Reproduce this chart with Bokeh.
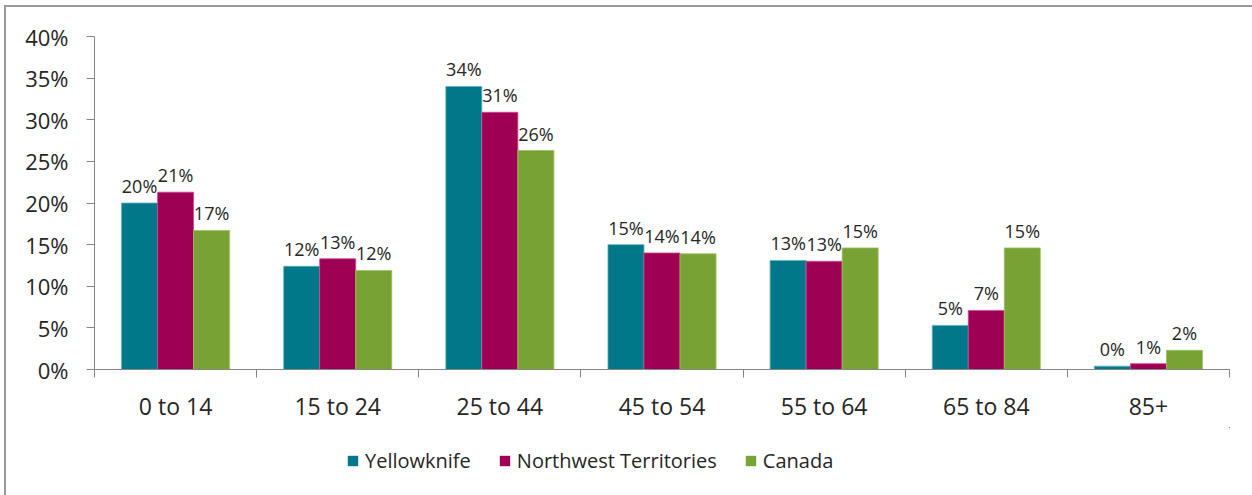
from bokeh.plotting import figure
from bokeh.layouts import column
from bokeh.models import Range1d, FixedTicker, Legend, LegendItem, ColumnDataSource
from bokeh.core.properties import value
from bokeh.embed import file_html
from bokeh.resources import INLINE

categories = ["0 to 14", "15 to 24", "25 to 44", "45 to 54", "55 to 64", "65 to 84", "85+"]
yellowknife = [20.0, 12.4, 34.0, 15.0, 13.1, 5.3, 0.4]
nwt = [21.3, 13.3, 30.9, 14.0, 13.0, 7.1, 0.7]
canada = [16.7, 11.9, 26.3, 13.9, 14.6, 14.6, 2.3]
series_names = ["Yellowknife", "Northwest Territories", "Canada"]
y_ticks = [0, 5, 10, 15, 20, 25, 30, 35, 40]
y_tick_labels = ["0%", "5%", "10%", "15%", "20%", "25%", "30%", "35%", "40%"]

colors = ["#00788A", "#9E0054", "#78A233"]
edge_colors = ["#5fb3c0", "#d04a90", "#9cc060"]
FONT = "Open Sans"
TEXT = "#262626"
AXIS = "#868686"

p = figure(width=1246, height=420, output_backend="svg", toolbar_location=None,
           x_range=Range1d(0, len(categories)), y_range=Range1d(0, 40),
           min_border_left=88, min_border_right=23, min_border_top=29, min_border_bottom=58)
p.outline_line_color = None
p.xgrid.visible = False
p.ygrid.visible = False
p.background_fill_color = "white"

bar_w = 0.2222
offsets = [-bar_w, 0.0, bar_w]
sources = []
for vals, off, col, ecol in zip([yellowknife, nwt, canada], offsets, colors, edge_colors):
    xs = [i + 0.5 + off for i in range(len(categories))]
    src = ColumnDataSource(dict(x=xs, top=vals, lab=[f"{int(v + 0.5)}%" for v in vals]))
    sources.append(src)
    p.vbar(x="x", top="top", width=bar_w, bottom=0, source=src,
           fill_color=col, line_color=ecol, line_width=0.8)
    p.text(x="x", y="top", text="lab", source=src, text_align="center",
           text_baseline="alphabetic", y_offset=-17, text_font=value(FONT),
           text_font_size="18px", text_color=TEXT)

# y axis
ya = p.yaxis[0]
ya.ticker = FixedTicker(ticks=y_ticks)
ya.major_label_overrides = {t: l for t, l in zip(y_ticks, y_tick_labels)}
ya.axis_line_color = AXIS
ya.major_tick_line_color = AXIS
ya.major_tick_out = 8
ya.major_tick_in = 0
ya.minor_tick_line_color = None
ya.major_label_text_font = FONT
ya.major_label_text_font_size = "22px"
ya.major_label_text_color = TEXT
ya.major_label_standoff = 18

# x axis
xa = p.xaxis[0]
centers = [i + 0.5 for i in range(len(categories))]
xa.ticker = FixedTicker(ticks=centers, minor_ticks=list(range(len(categories) + 1)))
xa.major_label_overrides = {c: name for c, name in zip(centers, categories)}
xa.axis_line_color = AXIS
xa.major_tick_line_color = None
xa.major_tick_out = 8
xa.major_tick_in = 0
xa.minor_tick_line_color = AXIS
xa.minor_tick_out = 8
xa.minor_tick_in = 0
xa.major_label_text_font = FONT
xa.major_label_text_font_size = "23px"
xa.major_label_text_color = TEXT
xa.major_label_standoff = 12

# legend strip (its ranges hold none of the bars, so only the legend shows)
p2 = figure(width=1246, height=68, output_backend="svg", toolbar_location=None,
            x_range=Range1d(-2, -1), y_range=Range1d(-2, -1),
            x_axis_location=None, y_axis_location=None,
            min_border_left=88, min_border_right=23, min_border_top=0, min_border_bottom=0)
p2.outline_line_color = None
p2.xgrid.visible = False
p2.ygrid.visible = False
leg_renderers = []
for src, col in zip(sources, colors):
    leg_renderers.append(p2.vbar(x="x", top="top", width=bar_w, bottom=0, source=src,
                                 fill_color=col, line_color=None))

legend = Legend(items=[LegendItem(label=n, renderers=[r]) for n, r in zip(series_names, leg_renderers)],
                orientation="horizontal", location=(252, 21))
legend.glyph_width = 13
legend.glyph_height = 13
legend.label_standoff = 6
legend.spacing = 27
legend.label_text_font = FONT
legend.label_text_font_size = "20px"
legend.label_text_color = TEXT
legend.border_line_color = None
legend.background_fill_alpha = 0
legend.margin = 0
legend.padding = 5
p2.add_layout(legend, "center")

layout = column(p, p2, spacing=0, margin=(5, 0, 0, 4),
                styles={"border-top": "2px solid #9a9a9a", "border-left": "2px solid #9a9a9a"})

open("out.html", "w").write(file_html(layout, INLINE))
